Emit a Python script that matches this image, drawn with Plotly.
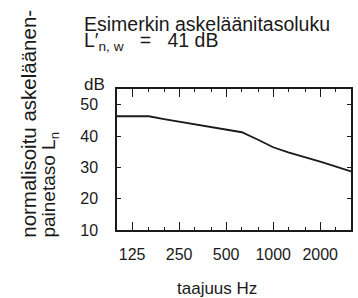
import plotly.graph_objects as go
import math

# Third-octave band centre frequencies (Hz)
freqs = [100, 125, 160, 200, 250, 315, 400, 500, 630, 800, 1000, 1250, 1600, 2000, 2500, 3150]
# Normalised impact sound pressure level L_n (dB)
levels = [46.3, 46.3, 46.3, 45.4, 44.6, 43.7, 42.9, 42.1, 41.2, 38.8, 36.4, 34.8, 33.3, 31.8, 30.3, 28.7]

x_tick_vals = [125, 250, 500, 1000, 2000]
x_tick_text = ["125", "250", "500", "1000", "2000"]
x_minor_vals = [f for f in freqs if f not in x_tick_vals]
y_tick_vals = [10, 20, 30, 40, 50]

title_line1 = "Esimerkin askeläänitasoluku"
title_line2 = "L\u2032<sub>n, w</sub>\u00a0\u00a0\u00a0=\u00a0\u00a0\u00a041 dB"
y_title_1 = "normalisoitu askeläänen-"
y_title_2 = "painetaso L<sub>n</sub>"
x_title = "taajuus Hz"
y_unit = "dB"

FONT = "Liberation Sans, Arial, sans-serif"
INK = "#1a1a1a"

W, H = 358, 298
L, R, T, B = 117, 5, 89, 68
PW, PH = W - L - R, H - T - B


def px(x):
    return (x - L) / PW


def py(y):
    return (H - B - y) / PH


fig = go.Figure()
fig.add_trace(go.Scatter(x=freqs, y=levels, mode="lines",
                         line=dict(color=INK, width=1.8), showlegend=False,
                         hoverinfo="skip"))

axis_common = dict(showline=True, linecolor=INK, linewidth=1.5, mirror="allticks",
                   ticks="inside", tickcolor=INK, showgrid=False, zeroline=False,
                   tickfont=dict(family=FONT, size=16, color=INK))

fig.update_xaxes(type="log", range=[math.log10(100), math.log10(3150)],
                 tickmode="array", tickvals=x_tick_vals, ticktext=x_tick_text,
                 ticklen=8, tickwidth=1.2, ticklabelstandoff=9,
                 minor=dict(tickmode="array", tickvals=x_minor_vals, ticks="inside",
                            ticklen=3, tickcolor=INK, tickwidth=1),
                 **axis_common)
fig.update_yaxes(range=[10, 55], tickmode="array", tickvals=y_tick_vals,
                 ticklen=4, tickwidth=1.2, ticklabelstandoff=14,
                 **axis_common)

ann = []
ann.append(dict(text=title_line1, x=px(82), y=py(37), xref="paper", yref="paper",
                xanchor="left", yanchor="bottom", showarrow=False,
                font=dict(family=FONT, size=19.5, color=INK)))
ann.append(dict(text=title_line2, x=px(82), y=py(56), xref="paper", yref="paper",
                xanchor="left", yanchor="bottom", showarrow=False,
                font=dict(family=FONT, size=19.5, color=INK)))
ann.append(dict(text=y_unit, x=px(94.5), y=py(84), xref="paper", yref="paper",
                xanchor="center", yanchor="middle", showarrow=False,
                font=dict(family=FONT, size=17, color=INK)))
ann.append(dict(text=y_title_1, x=px(27), y=py(240), xref="paper", yref="paper",
                xanchor="center", yanchor="bottom", textangle=-90, showarrow=False,
                font=dict(family=FONT, size=20.5, color=INK)))
ann.append(dict(text=y_title_2, x=px(49), y=py(240), xref="paper", yref="paper",
                xanchor="center", yanchor="bottom", textangle=-90, showarrow=False,
                font=dict(family=FONT, size=19, color=INK)))
ann.append(dict(text=x_title, x=px(218), y=py(288), xref="paper", yref="paper",
                xanchor="center", yanchor="middle", showarrow=False,
                font=dict(family=FONT, size=17, color=INK)))

fig.update_layout(width=W, height=H, autosize=False,
                  margin=dict(l=L, r=R, t=T, b=B, pad=0),
                  paper_bgcolor="white", plot_bgcolor="white",
                  annotations=ann, showlegend=False)

fig.write_html("out.html", config={"displayModeBar": False},
               post_script="document.body.style.margin='0';document.body.style.overflow='hidden';")
